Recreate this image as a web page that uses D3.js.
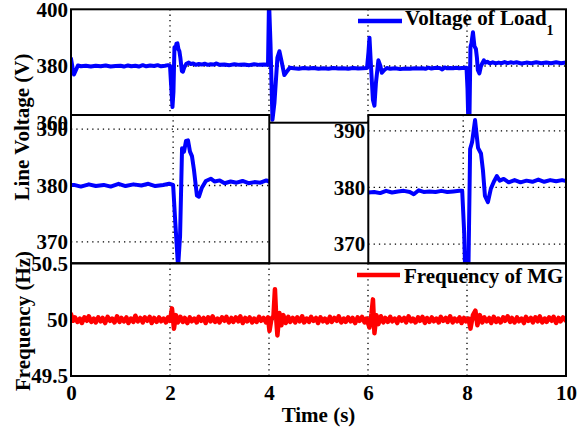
<!DOCTYPE html>
<html>
<head>
<meta charset="utf-8">
<script src="https://cdn.jsdelivr.net/npm/d3@7"></script>
<style>
  body { margin: 0; background: #fff; }
  svg { display: block; font-family: "Liberation Serif", "Times New Roman", serif; font-weight: bold; }
</style>
</head>
<body>
<div id="chart"></div>
<script>
// ---- data ----
const xTicks = [0, 2, 4, 6, 8, 10];
const gridX = [2, 4, 6, 8];
const voltTicks = [360, 380, 400];
const insetTicks = [370, 380, 390];
const freqTicks = [49.5, 50, 50.5];

// [time (s), line voltage (V)]
const voltage = [
  [0.00,382.6],[0.03,379.5],[0.06,377.0],[0.10,378.6],[0.14,380.2],[0.20,379.9],[0.30,380.1],[0.40,379.8],
  [0.50,380.1],[0.60,379.9],[0.70,380.2],[0.80,379.8],[0.90,380.0],[1.00,380.1],[1.07,379.8],[1.15,380.2],
  [1.22,379.9],[1.30,380.1],[1.37,379.8],[1.45,380.3],[1.52,379.9],[1.60,380.2],[1.68,380.0],[1.75,380.3],
  [1.82,379.9],[1.90,380.1],[1.96,380.3],[2.00,380.1],
  [2.02,374.0],[2.05,365.5],[2.07,371.0],[2.09,386.6],[2.11,386.0],[2.13,387.9],[2.15,388.0],[2.17,386.0],
  [2.19,385.2],[2.21,382.8],[2.24,378.2],[2.26,378.0],[2.29,379.6],[2.33,380.8],[2.38,381.2],[2.42,380.7],
  [2.47,380.9],[2.52,380.4],[2.58,380.7],[2.64,380.5],[2.70,380.8],[2.76,380.4],[2.82,380.6],[2.88,380.5],
  [2.94,380.9],[3.00,380.4],[3.10,380.5],[3.20,380.3],[3.30,380.6],[3.40,380.4],[3.50,380.5],[3.60,380.3],
  [3.70,380.6],[3.80,380.4],[3.90,380.5],[3.98,380.4],
  [4.00,403.0],[4.03,388.0],[4.07,361.0],[4.11,367.0],[4.17,383.0],[4.21,385.2],[4.25,382.0],[4.31,376.8],
  [4.36,378.0],[4.42,379.4],[4.50,379.2],[4.60,379.0],[4.70,379.3],[4.80,379.1],[4.90,379.3],[5.00,379.0],
  [5.10,379.2],[5.20,379.0],[5.30,379.3],[5.40,379.1],[5.50,379.2],[5.60,379.0],[5.70,379.3],[5.80,379.1],
  [5.90,379.2],[5.98,379.3],
  [6.01,385.0],[6.03,390.0],[6.06,380.0],[6.10,368.0],[6.13,366.0],[6.16,374.0],[6.21,382.0],[6.25,380.0],
  [6.28,377.6],[6.33,378.6],[6.38,379.3],[6.45,379.0],[6.55,379.2],[6.65,378.9],[6.75,379.1],[6.85,379.0],
  [6.95,379.2],[7.04,379.1],[7.10,379.2],[7.16,379.0],[7.22,379.4],[7.28,379.1],[7.34,379.3],[7.40,379.4],
  [7.46,379.2],[7.50,378.8],[7.55,379.5],[7.60,379.2],[7.66,379.3],[7.72,379.2],[7.78,379.4],[7.84,379.2],
  [7.90,379.3],[7.96,379.4],[7.99,379.4],
  [8.01,372.0],[8.03,358.0],[8.05,362.0],[8.07,386.8],[8.09,388.0],[8.12,391.9],[8.15,387.0],[8.18,386.0],
  [8.20,383.0],[8.22,378.5],[8.25,377.4],[8.28,379.8],[8.31,381.0],[8.34,382.0],[8.37,381.2],[8.41,381.5],
  [8.46,380.9],[8.52,381.3],[8.58,380.9],[8.64,381.2],[8.70,381.0],[8.76,381.4],[8.82,381.0],[8.88,381.3],
  [8.94,381.1],[9.00,381.3],[9.10,380.9],[9.20,381.2],[9.30,381.0],[9.40,381.3],[9.50,381.0],[9.60,381.2],
  [9.70,381.0],[9.80,381.3],[9.90,381.0],[10.0,381.2]
];

// [time (s), frequency (Hz)]
const frequency = [
  [0.00,50.05],[0.04,49.99],[0.08,50.02],[0.13,49.98],[0.18,50.01],[0.22,49.97],[0.27,50.02],[0.32,49.99],
  [0.36,50.03],[0.41,49.98],[0.46,50.01],[0.50,49.975],[0.55,50.02],[0.60,49.985],[0.64,50.015],[0.69,49.97],
  [0.74,50.025],[0.79,49.99],[0.83,50.01],[0.88,49.975],[0.93,50.03],[0.98,49.98],[1.02,50.015],[1.07,49.985],
  [1.12,50.02],[1.16,49.97],[1.21,50.01],[1.26,49.98],[1.30,50.035],[1.35,49.985],[1.40,50.015],[1.45,49.975],
  [1.49,50.02],[1.54,49.99],[1.59,50.025],[1.63,49.97],[1.68,50.015],[1.73,49.98],[1.78,50.02],[1.82,49.985],
  [1.87,50.01],[1.92,49.975],[1.96,50.02],
  [2.00,49.99],[2.04,50.10],[2.08,49.92],[2.12,50.04],[2.16,49.975],[2.21,50.025],[2.26,49.98],[2.30,50.015],
  [2.35,49.97],[2.40,50.02],[2.44,49.985],[2.49,50.01],[2.54,49.975],[2.58,50.025],[2.63,49.99],[2.68,50.015],
  [2.72,49.97],[2.77,50.02],[2.82,49.985],[2.86,50.03],[2.91,49.98],[2.96,50.01],[3.00,49.975],[3.05,50.02],
  [3.10,49.99],[3.14,50.025],[3.19,49.975],[3.24,50.015],[3.28,49.98],[3.33,50.02],[3.38,49.985],[3.42,50.03],
  [3.47,49.97],[3.52,50.015],[3.56,49.985],[3.61,50.02],[3.66,49.975],[3.70,50.01],[3.75,49.98],[3.80,50.025],
  [3.84,49.99],[3.89,50.015],[3.94,49.975],[3.98,50.02],
  [4.01,49.90],[4.05,50.01],[4.09,50.03],[4.12,50.27],[4.15,49.98],[4.17,49.86],[4.21,50.06],[4.25,49.95],
  [4.29,50.04],[4.34,49.97],[4.39,50.025],[4.43,49.98],[4.48,50.015],[4.53,49.975],[4.57,50.02],[4.62,49.985],
  [4.67,50.03],[4.71,49.975],[4.76,50.01],[4.81,49.98],[4.85,50.025],[4.90,49.99],[4.95,50.015],[4.99,49.97],
  [5.04,50.02],[5.09,49.985],[5.13,50.01],[5.18,49.975],[5.23,50.025],[5.27,49.98],[5.32,50.015],[5.37,49.99],
  [5.41,50.03],[5.46,49.975],[5.51,50.01],[5.55,49.98],[5.60,50.02],[5.65,49.985],[5.69,50.015],[5.74,49.97],
  [5.79,50.02],[5.83,49.99],[5.88,50.025],[5.93,49.975],[5.97,50.01],
  [6.03,49.93],[6.07,50.05],[6.10,50.18],[6.13,49.88],[6.17,50.04],[6.21,49.96],[6.26,50.03],[6.31,49.975],
  [6.35,50.015],[6.40,49.98],[6.45,50.025],[6.49,49.985],[6.54,50.01],[6.59,49.97],[6.63,50.02],[6.68,49.99],
  [6.73,50.015],[6.77,49.975],[6.82,50.03],[6.87,49.985],[6.91,50.01],[6.96,49.975],[7.01,50.02],[7.05,49.99],
  [7.10,50.025],[7.15,49.97],[7.19,50.015],[7.24,49.98],[7.29,50.02],[7.33,49.985],[7.38,50.01],[7.43,49.975],
  [7.47,50.025],[7.52,49.99],[7.57,50.015],[7.61,49.98],[7.66,50.03],[7.71,49.975],[7.75,50.01],[7.80,49.985],
  [7.85,50.02],[7.89,49.97],[7.94,50.015],[7.98,49.985],
  [8.03,50.01],[8.07,49.92],[8.12,50.04],[8.17,50.08],[8.21,49.95],[8.26,50.04],[8.31,49.975],[8.35,50.02],
  [8.40,49.985],[8.45,50.015],[8.49,49.97],[8.54,50.025],[8.59,49.98],[8.63,50.01],[8.68,49.975],[8.73,50.02],
  [8.77,49.99],[8.82,50.03],[8.87,49.98],[8.91,50.015],[8.96,49.975],[9.01,50.02],[9.05,49.985],[9.10,50.01],
  [9.15,49.97],[9.19,50.025],[9.24,49.99],[9.29,50.015],[9.33,49.975],[9.38,50.02],[9.43,49.985],[9.47,50.03],
  [9.52,49.975],[9.57,50.01],[9.61,49.98],[9.66,50.02],[9.71,49.99],[9.75,50.025],[9.80,49.97],[9.85,50.015],
  [9.89,49.985],[9.94,50.02],[10.0,49.99]
];

// ---- drawing ----
const W = 582, H = 431;
const FONT = 21;
const BLUE = '#0000ff', RED = '#ff0000';

const svg = d3.select('#chart').append('svg')
  .attr('width', W)
  .attr('height', H);

let clipCount = 0;

// one MATLAB-style axes box
const drawPanel = (opt) => {
  const x = d3.scaleLinear().domain(opt.xDomain).range(opt.xRange);
  const y = d3.scaleLinear().domain(opt.yDomain).range(opt.yRange);
  const [x0, x1] = opt.xRange;
  const [y1, y0] = opt.yRange; // y1 = bottom, y0 = top

  const g = svg.append('g');
  const clipId = `clip${clipCount++}`;
  g.append('clipPath').attr('id', clipId)
    .append('rect')
    .attr('x', x0).attr('y', y0)
    .attr('width', x1 - x0).attr('height', y1 - y0);

  if (opt.fill) {
    g.append('rect')
      .attr('x', x0).attr('y', y0)
      .attr('width', x1 - x0).attr('height', y1 - y0)
      .attr('fill', '#fff');
  }

  // dotted grid
  const grid = g.append('g')
    .attr('stroke', '#000')
    .attr('stroke-width', 1.3)
    .attr('stroke-dasharray', '1.3,4');
  grid.selectAll('line.gx')
    .data(opt.gridX)
    .enter().append('line')
    .attr('x1', d => x(d)).attr('x2', d => x(d))
    .attr('y1', y0).attr('y2', y1);
  grid.selectAll('line.gy')
    .data(opt.gridY)
    .enter().append('line')
    .attr('x1', x0).attr('x2', x1)
    .attr('y1', d => y(d)).attr('y2', d => y(d));

  const line = d3.line()
    .x(d => x(d[0]))
    .y(d => y(d[1]));

  g.append('path')
    .datum(opt.data)
    .attr('clip-path', `url(#${clipId})`)
    .attr('fill', 'none')
    .attr('stroke', opt.color)
    .attr('stroke-width', opt.lineWidth)
    .attr('stroke-linejoin', 'round')
    .attr('stroke-linecap', 'round')
    .attr('d', line);

  // box
  g.append('rect')
    .attr('x', x0).attr('y', y0)
    .attr('width', x1 - x0).attr('height', y1 - y0)
    .attr('fill', 'none')
    .attr('stroke', '#000')
    .attr('stroke-width', 2);

  // y tick labels
  const yAxis = g.append('g')
    .attr('transform', `translate(${x0},0)`)
    .call(d3.axisLeft(y).tickValues(opt.yTicks).tickSize(0).tickPadding(3)
      .tickFormat(d3.format('')));
  yAxis.select('.domain').remove();
  yAxis.selectAll('text')
    .attr('font-size', FONT)
    .attr('font-family', '"Liberation Serif", "Times New Roman", serif')
    .attr('font-weight', 'bold')
    .attr('fill', '#000');

  if (opt.xTicks) {
    const xAxis = g.append('g')
      .attr('transform', `translate(0,${y1})`)
      .call(d3.axisBottom(x).tickValues(opt.xTicks).tickSize(0).tickPadding(9));
    xAxis.select('.domain').remove();
    xAxis.selectAll('text')
      .attr('font-size', FONT)
      .attr('font-family', '"Liberation Serif", "Times New Roman", serif')
      .attr('font-weight', 'bold')
      .attr('fill', '#000');
  }
  return g;
};

// Top panel: voltage of load 1
const topPanel = drawPanel({
  xDomain: [0, 10], xRange: [71, 566],
  yDomain: [360, 400], yRange: [122.7, 9.3],
  gridX: gridX, gridY: [380], yTicks: voltTicks,
  data: voltage, color: BLUE, lineWidth: 4
});

// legend (top)
topPanel.append('line')
  .attr('x1', 358).attr('x2', 402).attr('y1', 21).attr('y2', 21)
  .attr('stroke', BLUE).attr('stroke-width', 4.5);
const legTxt = topPanel.append('text')
  .attr('x', 405).attr('y', 25)
  .attr('font-size', FONT);
legTxt.append('tspan').text('Voltage of Load');
legTxt.append('tspan').attr('dy', 10).attr('font-size', 14).text('1');

// Inset around t = 2 s
drawPanel({
  xDomain: [0.97, 2.97], xRange: [71, 269.3],
  yDomain: [366.2, 392.5], yRange: [263.3, 115],
  gridX: [2], gridY: insetTicks, yTicks: insetTicks,
  data: voltage, color: BLUE, lineWidth: 4, fill: true
});

// Inset around t = 8 s
drawPanel({
  xDomain: [7.04, 9.04], xRange: [368.3, 566],
  yDomain: [366.6, 392.8], yRange: [263.3, 115],
  gridX: [8], gridY: insetTicks, yTicks: insetTicks,
  data: voltage, color: BLUE, lineWidth: 4, fill: true
});

// Bottom panel: frequency of MG
const bottomPanel = drawPanel({
  xDomain: [0, 10], xRange: [71, 566],
  yDomain: [49.5, 50.5], yRange: [376, 263.3],
  gridX: gridX, gridY: [50], yTicks: freqTicks, xTicks: xTicks,
  data: frequency, color: RED, lineWidth: 4.5
});

bottomPanel.append('line')
  .attr('x1', 357).attr('x2', 400).attr('y1', 275).attr('y2', 275)
  .attr('stroke', RED).attr('stroke-width', 4.5);
bottomPanel.append('text')
  .attr('x', 404).attr('y', 283.3)
  .attr('font-size', FONT)
  .text('Frequency of MG');

// axis titles
svg.append('text')
  .attr('transform', 'translate(29,127) rotate(-90)')
  .attr('text-anchor', 'middle')
  .attr('font-size', FONT)
  .text('Line Voltage (V)');

svg.append('text')
  .attr('transform', 'translate(30,321) rotate(-90)')
  .attr('text-anchor', 'middle')
  .attr('font-size', FONT)
  .text('Frequency (Hz)');

svg.append('text')
  .attr('x', 318.5).attr('y', 422)
  .attr('text-anchor', 'middle')
  .attr('font-size', FONT)
  .text('Time (s)');
</script>
</body>
</html>
